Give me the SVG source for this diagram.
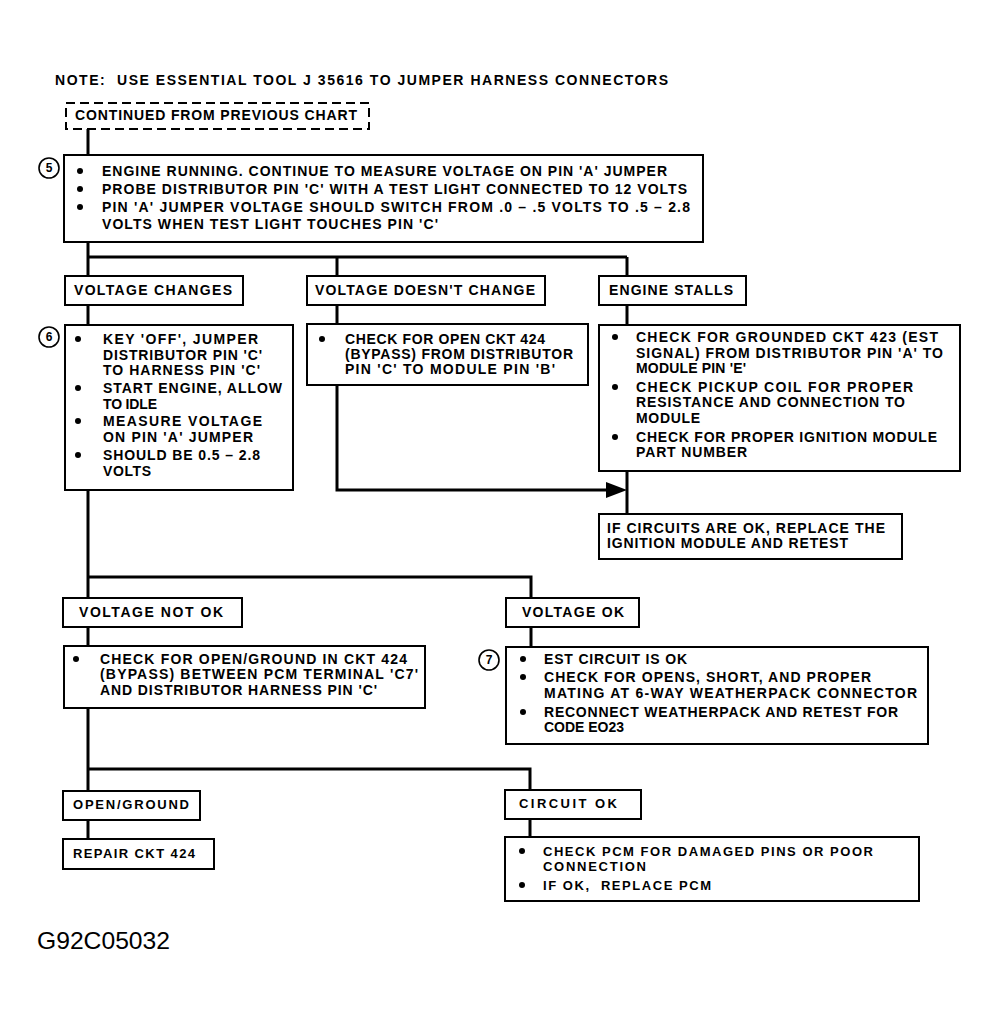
<svg xmlns="http://www.w3.org/2000/svg" width="1000" height="1025" viewBox="0 0 1000 1025">
<style>
.t{font-family:"Liberation Sans",Arial,sans-serif;font-size:14px;font-weight:bold;fill:#000}
.s{font-size:13px}
.box{fill:#fff;stroke:#000;stroke-width:2}
.dash{fill:#fff;stroke:#000;stroke-width:2;stroke-dasharray:9 5}
.conn{stroke:#000;stroke-width:3;fill:none}
.num{fill:#fff;stroke:#000;stroke-width:1.6}
.nt{font-family:"Liberation Sans",Arial,sans-serif;font-size:12px;font-weight:bold;text-anchor:middle}
.id{font-family:"Liberation Sans",Arial,sans-serif;font-size:24px;fill:#000}
</style>
<defs>
<circle id="b" r="3"/>
</defs>
<rect width="1000" height="1025" fill="#fff"/>
<text class="t" x="55" y="85" textLength="613" lengthAdjust="spacing" xml:space="preserve">NOTE:  USE ESSENTIAL TOOL J 35616 TO JUMPER HARNESS CONNECTORS</text>

<g id="connectors">
<path class="conn" d="M88,129 V598 M88,257 H627 M337,257 V323 M627,257 V325 M337,385 V490 H606 M627,471 V514 M88,577 H531 V598 M88,627 V791 M531,627 V647 M88,769 H530 V790 M88,821 V839 M530,819 V837"/>
<path d="M606,482 L627,490 L606,498 z" fill="#000"/>
</g>

<g id="start">
<rect class="dash" x="66" y="103" width="303" height="26"/>
<text class="t" x="75" y="120" textLength="282" lengthAdjust="spacing">CONTINUED FROM PREVIOUS CHART</text>
</g>

<g id="step5">
<rect class="box" x="64" y="155" width="639" height="87"/>
<circle class="num" cx="49" cy="168" r="10"/><text class="nt" x="49" y="172">5</text>
<use href="#b" x="80" y="171"/><use href="#b" x="80" y="189"/><use href="#b" x="80" y="207"/>
<text class="t" x="102" y="176" textLength="565" lengthAdjust="spacing">ENGINE RUNNING. CONTINUE TO MEASURE VOLTAGE ON PIN 'A' JUMPER</text>
<text class="t" x="102" y="194" textLength="585" lengthAdjust="spacing">PROBE DISTRIBUTOR PIN 'C' WITH A TEST LIGHT CONNECTED TO 12 VOLTS</text>
<text class="t" x="102" y="212" textLength="588" lengthAdjust="spacing">PIN 'A' JUMPER VOLTAGE SHOULD SWITCH FROM .0 – .5 VOLTS TO .5 – 2.8</text>
<text class="t" x="102" y="229" textLength="336" lengthAdjust="spacing">VOLTS WHEN TEST LIGHT TOUCHES PIN 'C'</text>
</g>

<g id="voltage-changes">
<rect class="box" x="65" y="276" width="178" height="29"/>
<text class="t" x="74" y="295" textLength="158" lengthAdjust="spacing">VOLTAGE CHANGES</text>
</g>
<g id="voltage-doesnt-change">
<rect class="box" x="307" y="276" width="238" height="29"/>
<text class="t" x="315" y="295" textLength="220" lengthAdjust="spacing">VOLTAGE DOESN'T CHANGE</text>
</g>
<g id="engine-stalls">
<rect class="box" x="599" y="276" width="147" height="29"/>
<text class="t" x="609" y="295" textLength="124" lengthAdjust="spacing">ENGINE STALLS</text>
</g>

<g id="step6">
<rect class="box" x="65" y="325" width="228" height="165"/>
<circle class="num" cx="49" cy="337" r="10"/><text class="nt" x="49" y="341">6</text>
<use href="#b" x="78" y="339"/><use href="#b" x="78" y="388"/><use href="#b" x="78" y="421"/><use href="#b" x="78" y="455"/>
<text class="t" x="103" y="344" textLength="155" lengthAdjust="spacing">KEY 'OFF', JUMPER</text>
<text class="t" x="103" y="360" textLength="159" lengthAdjust="spacing">DISTRIBUTOR PIN 'C'</text>
<text class="t" x="103" y="375" textLength="157" lengthAdjust="spacing">TO HARNESS PIN 'C'</text>
<text class="t" x="103" y="393" textLength="179" lengthAdjust="spacing">START ENGINE, ALLOW</text>
<text class="t" x="103" y="409" textLength="54" lengthAdjust="spacing">TO IDLE</text>
<text class="t" x="103" y="426" textLength="159" lengthAdjust="spacing">MEASURE VOLTAGE</text>
<text class="t" x="103" y="442" textLength="150" lengthAdjust="spacing">ON PIN 'A' JUMPER</text>
<text class="t" x="103" y="460" textLength="157" lengthAdjust="spacing">SHOULD BE 0.5 – 2.8</text>
<text class="t" x="103" y="476" textLength="48" lengthAdjust="spacing">VOLTS</text>
</g>

<g id="check-bypass">
<rect class="box" x="307" y="324" width="281" height="61"/>
<use href="#b" x="322" y="339"/>
<text class="t" x="345" y="344" textLength="200" lengthAdjust="spacing">CHECK FOR OPEN CKT 424</text>
<text class="t" x="345" y="359" textLength="228" lengthAdjust="spacing">(BYPASS) FROM DISTRIBUTOR</text>
<text class="t" x="345" y="374" textLength="210" lengthAdjust="spacing">PIN 'C' TO MODULE PIN 'B'</text>
</g>

<g id="check-grounded">
<rect class="box" x="599" y="325" width="361" height="146"/>
<use href="#b" x="615" y="337"/><use href="#b" x="615" y="387"/><use href="#b" x="615" y="437"/>
<text class="t" x="636" y="342" textLength="302" lengthAdjust="spacing">CHECK FOR GROUNDED CKT 423 (EST</text>
<text class="t" x="636" y="358" textLength="307" lengthAdjust="spacing">SIGNAL) FROM DISTRIBUTOR PIN 'A' TO</text>
<text class="t" x="636" y="373" textLength="110" lengthAdjust="spacing">MODULE PIN 'E'</text>
<text class="t" x="636" y="392" textLength="277" lengthAdjust="spacing">CHECK PICKUP COIL FOR PROPER</text>
<text class="t" x="636" y="407" textLength="269" lengthAdjust="spacing">RESISTANCE AND CONNECTION TO</text>
<text class="t" x="636" y="423" textLength="64" lengthAdjust="spacing">MODULE</text>
<text class="t" x="636" y="442" textLength="301" lengthAdjust="spacing">CHECK FOR PROPER IGNITION MODULE</text>
<text class="t" x="636" y="457" textLength="111" lengthAdjust="spacing">PART NUMBER</text>
</g>

<g id="replace-module">
<rect class="box" x="599" y="514" width="303" height="45"/>
<text class="t" x="607" y="533" textLength="278" lengthAdjust="spacing">IF CIRCUITS ARE OK, REPLACE THE</text>
<text class="t" x="607" y="548" textLength="241" lengthAdjust="spacing">IGNITION MODULE AND RETEST</text>
</g>

<g id="voltage-not-ok">
<rect class="box" x="63" y="598" width="179" height="29"/>
<text class="t" x="79" y="617" textLength="144" lengthAdjust="spacing">VOLTAGE NOT OK</text>
</g>
<g id="voltage-ok">
<rect class="box" x="506" y="598" width="133" height="29"/>
<text class="t" x="522" y="617" textLength="102" lengthAdjust="spacing">VOLTAGE OK</text>
</g>

<g id="check-open-ground">
<rect class="box" x="64" y="646" width="361" height="62"/>
<use href="#b" x="76" y="659"/>
<text class="t" x="100" y="664" textLength="307" lengthAdjust="spacing">CHECK FOR OPEN/GROUND IN CKT 424</text>
<text class="t" x="100" y="679" textLength="318" lengthAdjust="spacing">(BYPASS) BETWEEN PCM TERMINAL 'C7'</text>
<text class="t" x="100" y="695" textLength="277" lengthAdjust="spacing">AND DISTRIBUTOR HARNESS PIN 'C'</text>
</g>

<g id="step7">
<rect class="box" x="506" y="647" width="422" height="97"/>
<circle class="num" cx="489" cy="660" r="10"/><text class="nt" x="489" y="664">7</text>
<use href="#b" x="523" y="659"/><use href="#b" x="523" y="677"/><use href="#b" x="523" y="712"/>
<text class="t" x="544" y="664" textLength="143" lengthAdjust="spacing">EST CIRCUIT IS OK</text>
<text class="t" x="544" y="682" textLength="327" lengthAdjust="spacing">CHECK FOR OPENS, SHORT, AND PROPER</text>
<text class="t" x="544" y="698" textLength="373" lengthAdjust="spacing">MATING AT 6-WAY WEATHERPACK CONNECTOR</text>
<text class="t" x="544" y="717" textLength="354" lengthAdjust="spacing">RECONNECT WEATHERPACK AND RETEST FOR</text>
<text class="t" x="544" y="732" textLength="80" lengthAdjust="spacing">CODE EO23</text>
</g>

<g id="open-ground">
<rect class="box" x="63" y="791" width="137" height="29"/>
<text class="t s" x="73" y="809" textLength="116" lengthAdjust="spacing">OPEN/GROUND</text>
</g>
<g id="repair">
<rect class="box" x="63" y="839" width="151" height="30"/>
<text class="t s" x="73" y="858" textLength="122" lengthAdjust="spacing">REPAIR CKT 424</text>
</g>
<g id="circuit-ok">
<rect class="box" x="505" y="790" width="136" height="29"/>
<text class="t s" x="519" y="808" textLength="98" lengthAdjust="spacing">CIRCUIT OK</text>
</g>
<g id="check-pcm">
<rect class="box" x="505" y="837" width="414" height="64"/>
<use href="#b" x="522" y="851"/><use href="#b" x="522" y="885"/>
<text class="t s" x="543" y="856" textLength="330" lengthAdjust="spacing">CHECK PCM FOR DAMAGED PINS OR POOR</text>
<text class="t s" x="543" y="871" textLength="103" lengthAdjust="spacing">CONNECTION</text>
<text class="t s" x="543" y="890" textLength="168" lengthAdjust="spacing" xml:space="preserve">IF OK,  REPLACE PCM</text>
</g>

<text class="id" x="37" y="949" textLength="133" lengthAdjust="spacingAndGlyphs">G92C05032</text>
</svg>
